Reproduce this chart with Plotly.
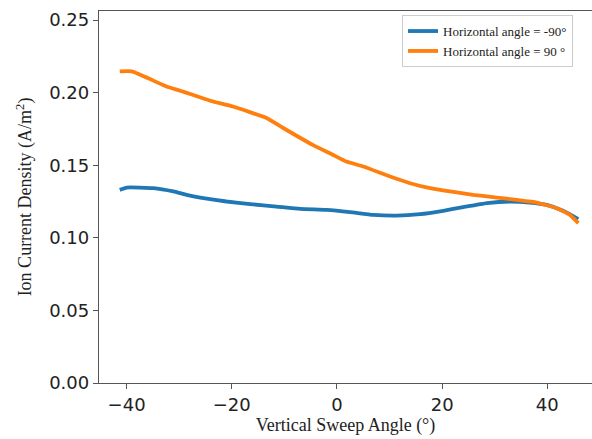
import plotly.graph_objects as go

# Horizontal angle = -90° (blue)
blue_x = [-41.3, -40.0, -34.9, -31.1, -28.6, -26.0, -21.0, -16.5, -11.5, -7.0, -2.0, 2.5,
          6.9, 11.3, 15.8, 20.2, 24.0, 28.5, 32.9, 36.7, 39.9, 43.0, 45.9]
blue_y = [0.1330, 0.1346, 0.1342, 0.1319, 0.1296, 0.1277, 0.1250, 0.1232, 0.1215, 0.1199, 0.1192, 0.1177,
          0.1158, 0.1153, 0.1163, 0.1186, 0.1211, 0.1239, 0.1250, 0.1243, 0.1227, 0.1186, 0.1129]

# Horizontal angle = 90° (orange)
orange_x = [-41.3, -39.0, -32.4, -29.8, -27.9, -24.1, -19.8, -13.4, -10.3, -4.6, -0.8, 1.8,
            5.0, 10.1, 13.9, 17.7, 21.5, 25.9, 30.4, 34.2, 38.0, 41.8, 44.3, 45.9]
orange_y = [0.2146, 0.2146, 0.2042, 0.2013, 0.1990, 0.1944, 0.1904, 0.1825, 0.1758, 0.1640, 0.1572, 0.1525,
            0.1491, 0.1422, 0.1376, 0.1342, 0.1319, 0.1296, 0.1277, 0.1261, 0.1243, 0.1204, 0.1158, 0.1101]

x_ticks = [-40, -20, 0, 20, 40]
x_tick_labels = ["−40", "−20", "0", "20", "40"]
y_ticks = [0.00, 0.05, 0.10, 0.15, 0.20, 0.25]
y_tick_labels = ["0.00", "0.05", "0.10", "0.15", "0.20", "0.25"]

fig = go.Figure()
fig.add_trace(go.Scatter(x=blue_x, y=blue_y, mode="lines", name="Horizontal angle = -90°",
                         line=dict(color="#1f77b4", width=3.8, shape="spline", smoothing=0.4)))
fig.add_trace(go.Scatter(x=orange_x, y=orange_y, mode="lines", name="Horizontal angle = 90 °",
                         line=dict(color="#ff7f0e", width=3.8, shape="spline", smoothing=0.4)))

axis_font = dict(family="DejaVu Sans", size=18, color="#222")
title_font = dict(family="Liberation Serif", size=18, color="#222")

fig.update_layout(
    width=592, height=439,
    margin=dict(l=99, r=0, t=11, b=56),
    paper_bgcolor="white", plot_bgcolor="white",
    showlegend=True,
    legend=dict(x=0.6146, y=0.989, xanchor="left", yanchor="top",
                font=dict(family="Liberation Serif", size=13, color="#222"),
                bgcolor="white", bordercolor="#cccccc", borderwidth=1,
                entrywidth=190, entrywidthmode="pixels"),
    xaxis=dict(range=[-45.25, 48.5], tickvals=x_ticks, ticktext=x_tick_labels,
               showgrid=False, zeroline=False, showline=True, linecolor="#555", linewidth=1.3,
               mirror=True, ticks="outside", ticklen=5, tickcolor="#555", tickwidth=1.2,
               tickfont=axis_font,
               title=dict(text="Vertical Sweep Angle (°)", font=title_font, standoff=4)),
    yaxis=dict(range=[0, 0.2562], tickvals=y_ticks, ticktext=y_tick_labels,
               showgrid=False, zeroline=False, showline=True, linecolor="#555", linewidth=1.3,
               ticks="outside", ticklen=5, tickcolor="#555", tickwidth=1.2,
               tickfont=axis_font,
               title=dict(text="Ion Current Density (A/m<sup>2</sup>)", font=title_font, standoff=12)),
)

fig.write_html("out.html")
